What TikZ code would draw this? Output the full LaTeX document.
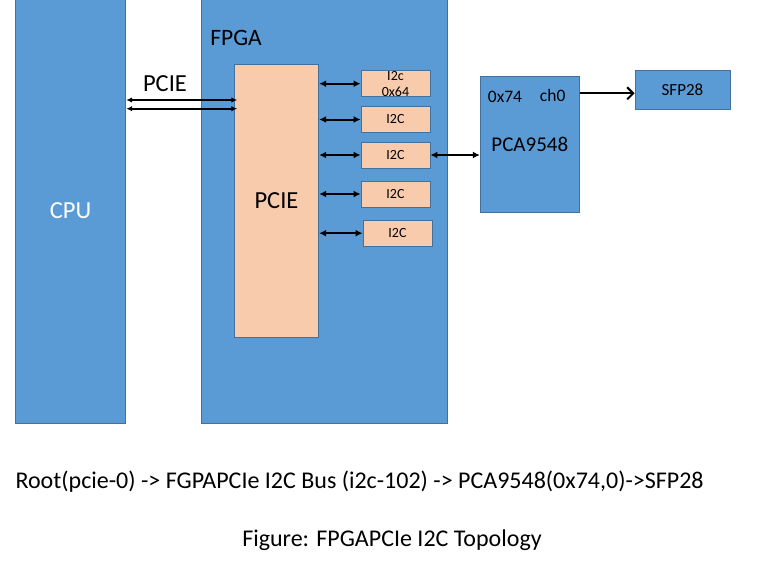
\documentclass[tikz,border=0pt]{standalone}
\usepackage{fontspec}
\setmainfont{Carlito}
\usepackage{xcolor}
\usetikzlibrary{arrows.meta,positioning}

\definecolor{boxblue}{HTML}{5B9BD5}
\definecolor{boxline}{HTML}{41719C}
\definecolor{peach}{HTML}{F8CBAD}

\newcommand{\fs}[1]{\fontsize{#1}{1.15\dimexpr#1pt\relax}\selectfont}

\begin{document}
\begin{tikzpicture}[
    x=1pt, y=-1pt,
    bluebox/.style={draw=boxline, fill=boxblue, line width=0.9pt, inner sep=0pt},
    peachbox/.style={draw=boxline, fill=peach, line width=0.9pt, inner sep=0pt},
    i2cbox/.style={peachbox, minimum width=69, minimum height=26, font=\fs{14}, align=center},
    biarrow/.style={{Latex[length=7pt,width=7pt]}-{Latex[length=7pt,width=7pt]}, line width=2pt},
    pciearrow/.style={{Latex[length=6pt,width=5.5pt]}-{Latex[length=6pt,width=5.5pt]}, line width=1.7pt},
    outarrow/.style={-{Straight Barb[length=6pt,width=12pt]}, line width=2pt}
]
\useasboundingbox (0,0) rectangle (780,568);

% === CPU ===
\node[bluebox, minimum width=110.5, minimum height=424.5, text=white, font=\fs{24.5}] (cpu) at (70.5, 211) {CPU};

% === FPGA ===
\node[bluebox, minimum width=246.5, minimum height=424.5] (fpga) at (324.5, 211) {};
\node[font=\fs{23.5}] (fpgalabel) at (236, 38) {FPGA};
\node[peachbox, minimum width=84.5, minimum height=272.5, font=\fs{24.5}] (pcie) at (276.5, 201) {PCIE};

% I2C controllers
\node[i2cbox] (i2c1) at (395.5, 83.7) {I2c\\0x64};
\node[i2cbox] (i2c2) at (395.5, 119.5) {I2C};
\node[i2cbox] (i2c3) at (395.5, 155) {I2C};
\node[i2cbox] (i2c4) at (395.5, 194) {I2C};
\node[i2cbox] (i2c5) at (397.5, 233.2) {I2C};

\foreach \n in {1, 2, 3, 4, 5} {
    \draw[biarrow] (pcie.east |- i2c\n.west) -- (i2c\n.west);
}

% PCIE link
\node[font=\fs{24.5}] (pcielabel) at (165, 84) {PCIE};
\draw[pciearrow] (cpu.east |- 0,100) -- ([xshift=3.5pt]pcie.west |- 0,100);
\draw[pciearrow] (cpu.east |- 0,108.7) -- ([xshift=3.5pt]pcie.west |- 0,108.7);

% === PCA9548 mux ===
\node[bluebox, minimum width=99, minimum height=136.5, font=\fs{21}] (pca) at (529.8, 144.2) {PCA9548};
\node[font=\fs{17.5}] (addr) at (505, 97) {0x74};
\node[font=\fs{17.5}] (chan) at (552.7, 95.5) {ch0};
\draw[biarrow] (i2c3.east) -- (pca.west |- i2c3.east);

% === SFP28 ===
\node[bluebox, minimum width=95, minimum height=39, font=\fs{17}] (sfp) at (682.5, 89.8) {SFP28};
\draw[outarrow] (pca.east |- 0,93.3) -- (sfp.west |- 0,93.3);

% === Captions ===
\node[anchor=west, font=\fs{24}] (path) at (12, 482) {Root(pcie-0) -> FGPAPCIe I2C Bus (i2c-102) -> PCA9548(0x74,0)->SFP28};
\node[font=\fs{24}] (caption) at (392, 540) {Figure: FPGAPCIe I2C Topology};

\end{tikzpicture}
\end{document}
